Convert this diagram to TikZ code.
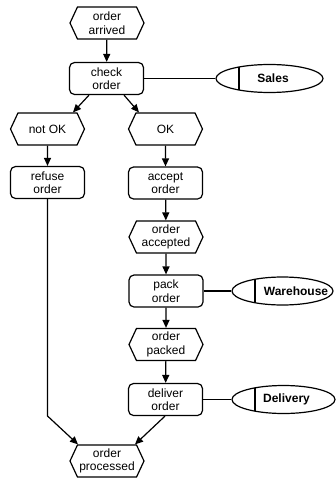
\documentclass[tikz,border=0pt]{standalone}
\usepackage{fontspec}
\setmainfont{Liberation Sans}
\usetikzlibrary{shapes.symbols, shapes.geometric, arrows.meta}

\begin{document}
\begin{tikzpicture}[x=1pt, y=-1pt, line width=1.2pt]
\tikzstyle{every node}+=[inner sep=0pt, font=\fontsize{12}{13.5}\selectfont, align=center]
\tikzstyle{event}=[draw, signal, signal to=west and east, signal pointer angle=130, minimum width=74pt, minimum height=32pt]
\tikzstyle{func}=[draw, rectangle, rounded corners=5pt, minimum width=74pt, minimum height=32pt]
\tikzstyle{orgunit}=[draw, ellipse, minimum height=28pt, path picture={\draw ([xshift=23pt]path picture bounding box.south west) -- ([xshift=23pt]path picture bounding box.north west);}]
\tikzstyle{unitname}=[font=\fontsize{12}{13.5}\selectfont\bfseries]
\tikzstyle{flow}=[-{Triangle[length=8pt,width=7pt]}]
\useasboundingbox (0,0) rectangle (335,479);
% events and functions
\node [event] (arrived) at (107,23) {order\\arrived};
\node [func] (check) at (106.5,78.5) {check\\order};
\node [event] (notok) at (47.5,129) {not OK};
\node [event] (ok) at (165.5,129) {OK};
\node [func] (refuse) at (47.5,182.5) {refuse\\order};
\node [func] (accept) at (165.5,183) {accept\\order};
\node [event] (accepted) at (166,237) {order\\accepted};
\node [func] (pack) at (166,291) {pack\\order};
\node [event] (packed) at (166,344.5) {order\\packed};
\node [func] (deliver) at (165.5,399.5) {deliver\\order};
\node [event] (processed) at (107,461) {order\\processed};
% organisational units
\node [orgunit, minimum width=107pt] (sales) at (269.5,78.5) {};
\node [unitname] (salesT) at ([xshift=3.5pt]sales.center) {Sales};
\node [orgunit, minimum width=101pt] (warehouse) at (282.5,291) {};
\node [unitname] (warehouseT) at ([xshift=13.5pt]warehouse.center) {Warehouse};
\node [orgunit, minimum width=103pt] (delivery) at (283.5,399.5) {};
\node [unitname] (deliveryT) at ([xshift=3pt]delivery.center) {Delivery};
% control flow
\draw [flow] (arrived) -- (check);
\draw [flow] ([xshift=-17.5pt]check.south) -- ([xshift=25.5pt]notok.north);
\draw [flow] ([xshift=17.5pt]check.south) -- ([xshift=-26.5pt]ok.north);
\draw [flow] (notok) -- (refuse);
\draw [flow] (ok) -- (accept);
\draw [flow] (accept) -- (accepted);
\draw [flow] (accepted) -- (pack);
\draw [flow] (pack) -- (packed);
\draw [flow] (packed) -- (deliver);
\coordinate (rbend) at (47.5,416);
\draw [flow] (refuse.south) -- (rbend) -- ([xshift=-29pt]processed.north);
\draw [flow] ([xshift=-0.5pt]deliver.south) -- ([xshift=28pt]processed.north);
% assignments
\draw (check) -- (sales);
\draw (pack) -- (warehouse);
\draw (deliver) -- (delivery);
\end{tikzpicture}
\end{document}
